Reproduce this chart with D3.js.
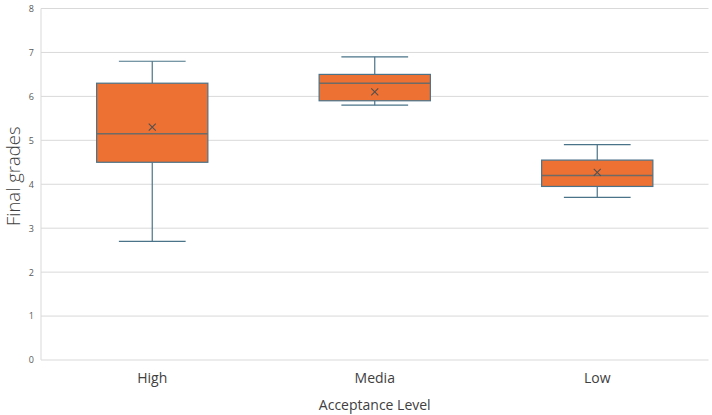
<!DOCTYPE html>
<html>
<head>
<meta charset="utf-8">
<script src="https://cdn.jsdelivr.net/npm/d3@7"></script>
<style>
  body { margin: 0; background: #fff; }
  text { font-family: "Open Sans", "Noto Sans", sans-serif; }
</style>
</head>
<body>
<div id="chart"></div>
<script>
// box plot summary values
var categories = ["High", "Media", "Low"];
var whiskerLow = [2.7, 5.8, 3.7];
var q1 = [4.5, 5.9, 3.95];
var median = [5.15, 6.3, 4.2];
var q3 = [6.3, 6.5, 4.55];
var whiskerHigh = [6.8, 6.9, 4.9];
var means = [5.3, 6.1, 4.27];
var yTicks = [0, 1, 2, 3, 4, 5, 6, 7, 8];

var W = 712, H = 415;
var margin = {top: 8.5, right: 3.5, bottom: 55, left: 41};
var width = W - margin.left - margin.right,
    height = H - margin.top - margin.bottom;

var svg = d3.select("#chart").append("svg")
    .attr("width", W)
    .attr("height", H)
  .append("g")
    .attr("transform", "translate(" + margin.left + "," + margin.top + ")");

var x = d3.scaleBand().domain(categories).range([0, width]);
var y = d3.scaleLinear().domain([0, 8]).range([height, 0]);

// gridlines
svg.append("g")
  .selectAll("line")
  .data(yTicks)
  .join("line")
    .attr("x1", 0).attr("x2", width)
    .attr("y1", d => y(d)).attr("y2", d => y(d))
    .attr("stroke", "#d9d9d9").attr("stroke-width", 1);

svg.append("line")
  .attr("x1", 0).attr("x2", 0)
  .attr("y1", 0).attr("y2", height)
  .attr("stroke", "#d9d9d9");

// y tick labels
var yAxis = svg.append("g")
  .call(d3.axisLeft(y).tickValues(yTicks).tickSize(0).tickPadding(7));
yAxis.select(".domain").remove();
yAxis.selectAll("text").attr("fill", "#595959").style("font-size", "9px");

// x tick labels
var xAxis = svg.append("g")
  .attr("transform", "translate(0," + height + ")")
  .call(d3.axisBottom(x).tickSize(0).tickPadding(13));
xAxis.select(".domain").remove();
xAxis.selectAll("text").attr("fill", "#404040").style("font-size", "14px");

// axis titles
svg.append("text")
  .attr("x", width / 2).attr("y", height + 50)
  .attr("text-anchor", "middle")
  .attr("fill", "#404040").style("font-size", "14px")
  .text("Acceptance Level");

svg.append("text")
  .attr("transform", "translate(" + (-21) + "," + (height / 2 - 8) + ") rotate(-90)")
  .attr("text-anchor", "middle")
  .attr("fill", "#404040").style("font-size", "18.5px").style("font-weight", "300")
  .text("Final grades");

var stroke = "#4a7389";
var boxW = x.bandwidth() * 0.5;
var cap = boxW * 0.3;

var boxes = svg.append("g")
  .selectAll("g")
  .data(categories)
  .join("g")
    .attr("transform", d => "translate(" + (x(d) + x.bandwidth() / 2) + ",0)");

// whiskers
boxes.append("line")
  .attr("x1", 0).attr("x2", 0)
  .attr("y1", (d, i) => y(whiskerHigh[i])).attr("y2", (d, i) => y(q3[i]))
  .attr("stroke", stroke).attr("stroke-width", 1.2);
boxes.append("line")
  .attr("x1", 0).attr("x2", 0)
  .attr("y1", (d, i) => y(q1[i])).attr("y2", (d, i) => y(whiskerLow[i]))
  .attr("stroke", stroke).attr("stroke-width", 1.2);
boxes.append("line")
  .attr("x1", -cap).attr("x2", cap)
  .attr("y1", (d, i) => y(whiskerHigh[i])).attr("y2", (d, i) => y(whiskerHigh[i]))
  .attr("stroke", stroke).attr("stroke-width", 1.2);
boxes.append("line")
  .attr("x1", -cap).attr("x2", cap)
  .attr("y1", (d, i) => y(whiskerLow[i])).attr("y2", (d, i) => y(whiskerLow[i]))
  .attr("stroke", stroke).attr("stroke-width", 1.2);

// boxes
boxes.append("rect")
  .attr("x", -boxW / 2).attr("width", boxW)
  .attr("y", (d, i) => y(q3[i]))
  .attr("height", (d, i) => y(q1[i]) - y(q3[i]))
  .attr("fill", "#ed7132")
  .attr("stroke", stroke).attr("stroke-width", 1.2);

// median
boxes.append("line")
  .attr("x1", -boxW / 2).attr("x2", boxW / 2)
  .attr("y1", (d, i) => y(median[i])).attr("y2", (d, i) => y(median[i]))
  .attr("stroke", "#6e6a66").attr("stroke-width", 1.4);

// mean marker
var m = 3.5;
boxes.append("path")
  .attr("d", (d, i) => {
    var cy = y(means[i]);
    return "M" + (-m) + "," + (cy - m) + "L" + m + "," + (cy + m) +
           "M" + m + "," + (cy - m) + "L" + (-m) + "," + (cy + m);
  })
  .attr("stroke", "#505050").attr("stroke-width", 1.1).attr("fill", "none");
</script>
</body>
</html>
